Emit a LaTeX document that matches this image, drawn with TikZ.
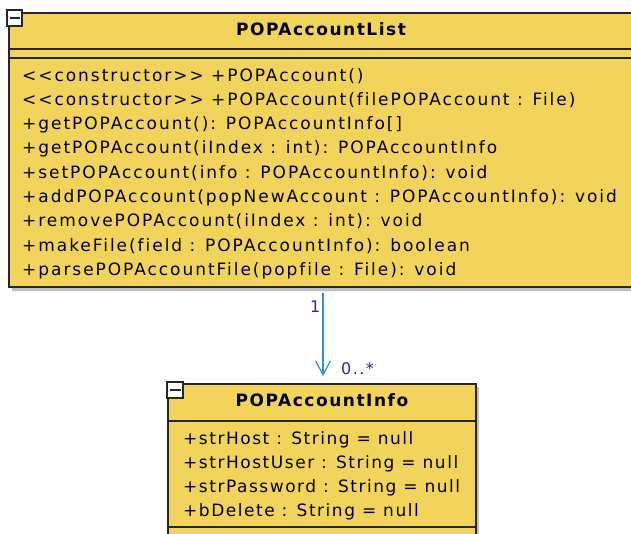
\documentclass[tikz,border=0pt]{standalone}
\usepackage{fontspec}
\setmainfont{DejaVu Sans}[LetterSpace=9,Ligatures=NoCommon]
\newfontfamily\listface{DejaVu Sans}[LetterSpace=11.5,Ligatures=NoCommon]
\usetikzlibrary{arrows.meta}
\definecolor{umlfill}{RGB}{242,212,92}
\definecolor{umledge}{RGB}{45,150,190}
\definecolor{umllabel}{RGB}{45,45,140}
\tikzset{
  classbox/.style={draw=black!85,line width=1.4pt,fill=umlfill},
  shadowbox/.style={fill=black!25,draw=none},
  sepline/.style={draw=black!85,line width=1.4pt},
  minusbox/.style={draw=black!85,line width=1.2pt,fill=white},
  classname/.style={anchor=base,inner sep=0pt,font=\fontsize{17}{20}\selectfont\bfseries},
  member/.style={anchor=base west,inner sep=0pt,font=\fontsize{17}{20}\selectfont},
  listmember/.style={member,font=\listface\fontsize{17}{20}\selectfont},
  mult/.style={anchor=base west,inner sep=0pt,text=umllabel,font=\fontsize{16}{18}\selectfont},
  assoc/.style={draw=umledge,line width=1.3pt,-{Straight Barb[length=14pt,width=15pt,line width=1.2pt]}}
}
\begin{document}
\begin{tikzpicture}[x=1pt,y=-1pt]
    \clip (0,0) rectangle (631,533);
    % POPAccountList
    \fill[shadowbox] (12,16) rectangle (660,291);
    \filldraw[classbox] (9,13) rectangle (650,287);
    \draw[sepline] (9,49) -- (650,49);
    \draw[sepline] (9,58) -- (650,58);
    \filldraw[minusbox] (7,10) rectangle (22,26);
    \draw[black!85,line width=1.2pt] (9.5,18) -- (19.5,18);
    \node[classname] (listname) at (321,35.5) {POPAccountList};
    \node[listmember] (m1) at (22,81) {{<}{<}constructor{>}{>} +POPAccount()};
    \node[listmember] (m2) at (22,105.3) {{<}{<}constructor{>}{>} +POPAccount(f{}ilePOPAccount : File)};
    \node[listmember] (m3) at (22,129.6) {+getPOPAccount(): POPAccountInfo[]};
    \node[listmember] (m4) at (22,153.9) {+getPOPAccount(iIndex : int): POPAccountInfo};
    \node[listmember] (m5) at (22,178.2) {+setPOPAccount(info : POPAccountInfo): void};
    \node[listmember] (m6) at (22,202.5) {+addPOPAccount(popNewAccount : POPAccountInfo): void};
    \node[listmember] (m7) at (22,226.8) {+removePOPAccount(iIndex : int): void};
    \node[listmember] (m8) at (22,251.1) {+makeFile(f{}ield : POPAccountInfo): boolean};
    \node[listmember] (m9) at (22,275.4) {+parsePOPAccountFile(popf{}ile : File): void};
    \coordinate (listout) at (323,293);

    % POPAccountInfo
    \fill[shadowbox] (171,387) rectangle (479,560);
    \filldraw[classbox] (168,384) rectangle (476,550);
    \draw[sepline] (168,421) -- (476,421);
    \draw[sepline] (168,527) -- (476,527);
    \filldraw[minusbox] (167,382) rectangle (183,398);
    \draw[black!85,line width=1.2pt] (169.5,390) -- (180.5,390);
    \node[classname] (infoname) at (322,406.5) {POPAccountInfo};
    \node[member] (a1) at (183,444) {+strHost : String = null};
    \node[member] (a2) at (183,468) {+strHostUser : String = null};
    \node[member] (a3) at (183,492.5) {+strPassword : String = null};
    \node[member] (a4) at (183,516.5) {+bDelete : String = null};
    \coordinate (infoin) at (323,376);

    % association
    \draw[assoc] (listout) -- (infoin);
    \node[mult] (one) at (310,312) {1};
    \node[mult] (many) at (341,374) {0..*};
\end{tikzpicture}
\end{document}
